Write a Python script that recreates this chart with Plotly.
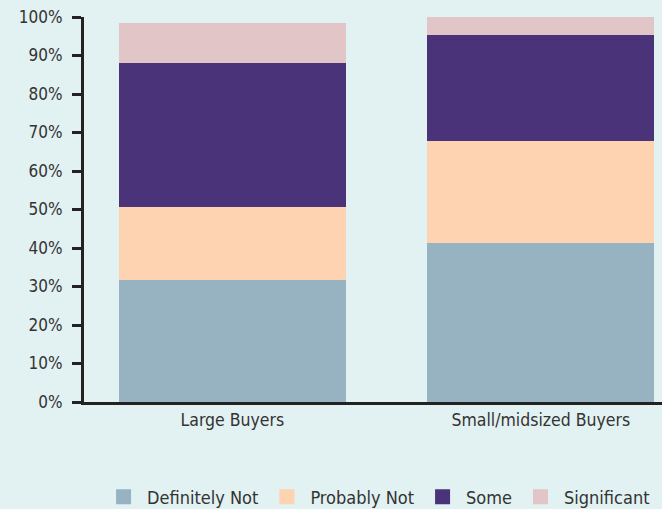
import plotly.graph_objects as go

categories = ["Large Buyers", "Small/midsized Buyers"]
definitely_not = [32.0, 41.6]
probably_not = [19.0, 26.6]
some = [37.5, 27.4]
significant = [9.5, 4.4]

series_names = ["Definitely Not", "Probably Not", "Some", "Significant"]
series_values = [definitely_not, probably_not, some, significant]
series_colors = ["#97B3C2", "#FDD3B1", "#4A3379", "#E2C6C7"]

y_ticks = [0, 10, 20, 30, 40, 50, 60, 70, 80, 90, 100]
y_tick_labels = [f"{v}%" for v in y_ticks]

FONT = "DejaVu Sans Condensed, DejaVu Sans, sans-serif"
BG = "#E2F1F1"
TEXT = "#333333"
AXIS = "#222222"

fig = go.Figure()
for name, vals, color in zip(series_names, series_values, series_colors):
    fig.add_trace(go.Bar(
        x=categories, y=vals, name=name, marker_color=color,
        marker_line=dict(color=color, width=3), width=0.726,
    ))

fig.update_layout(
    width=662, height=509,
    barmode="stack",
    paper_bgcolor=BG, plot_bgcolor=BG,
    margin=dict(l=84, r=0, t=17, b=107, autoexpand=False),
    showlegend=True,
    legend=dict(
        orientation="h", traceorder="normal",
        xanchor="right", x=0.988, yanchor="middle", y=-0.247,
        font=dict(family=FONT, size=18, color=TEXT),
        bgcolor="rgba(0,0,0,0)", itemwidth=37,
    ),
    xaxis=dict(
        range=[-0.481, 1.393], showgrid=False,
        zeroline=False, showline=True, linecolor=AXIS, linewidth=3,
        ticks="", tickfont=dict(family=FONT, size=17.5, color=TEXT),
    ),
    yaxis=dict(
        range=[0, 100], tickvals=y_ticks, ticktext=y_tick_labels,
        showgrid=False, zeroline=False, showline=True,
        linecolor=AXIS, linewidth=3,
        ticks="outside", ticklen=9, tickwidth=3, tickcolor=AXIS,
        ticklabelstandoff=6,
        tickfont=dict(family=FONT, size=17, color=TEXT),
    ),
)

fig.write_html("out.html")
